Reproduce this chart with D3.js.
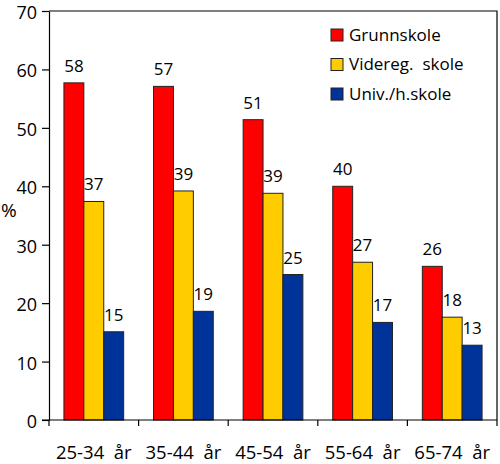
<!DOCTYPE html>
<html>
<head>
<meta charset="utf-8">
<script src="https://cdn.jsdelivr.net/npm/d3@7"></script>
<style>
  body { margin: 0; background: #fff; }
  text { font-family: "Open Sans", sans-serif; fill: #000; white-space: pre; }
</style>
</head>
<body>
<div class="graph"></div>
<script>
// data
var categories = ["25-34  år", "35-44  år", "45-54  år", "55-64  år", "65-74  år"];
var seriesNames = ["Grunnskole", "Videreg.  skole", "Univ./h.skole"];
var seriesColors = ["#ff0000", "#ffcc00", "#003399"];
var grunnskole = [57.7, 57.1, 51.4, 40.0, 26.3];
var videreg = [37.4, 39.2, 38.8, 27.0, 17.6];
var univ = [15.1, 18.6, 24.9, 16.7, 12.8];
var yTicks = [0, 10, 20, 30, 40, 50, 60, 70];

var series = [grunnskole, videreg, univ];

// set the dimensions and margins
var margin = {top: 11, right: 3, bottom: 44, left: 49},
    width = 500 - margin.left - margin.right,
    height = 464 - margin.top - margin.bottom;

var svg = d3.select(".graph").append("svg")
    .attr("width", 500)
    .attr("height", 464)
  .append("g")
    .attr("transform", "translate(" + margin.left + "," + margin.top + ")");

// scales
var x0 = d3.scaleBand().domain(categories).range([0, width]);
var x1 = d3.scaleBand().domain(d3.range(series.length))
    .range([x0.bandwidth() / 6, x0.bandwidth() * 5 / 6]);
var y = d3.scaleLinear().domain([0, 70]).range([height, 0]);

// frame (top and right)
svg.append("path")
    .attr("d", "M0,0H" + width + "V" + height)
    .attr("fill", "none")
    .attr("stroke", "#000")
    .attr("stroke-width", 1.2);

// bars
var groups = svg.selectAll("g.cat")
    .data(categories)
  .enter().append("g")
    .attr("class", "cat")
    .attr("transform", function(d) { return "translate(" + x0(d) + ",0)"; });

groups.selectAll("rect")
    .data(function(d, i) { return series.map(function(s, j) { return {s: j, v: s[i]}; }); })
  .enter().append("rect")
    .attr("x", function(d) { return x1(d.s); })
    .attr("y", function(d) { return y(d.v); })
    .attr("width", x1.bandwidth())
    .attr("height", function(d) { return height - y(d.v); })
    .attr("fill", function(d) { return seriesColors[d.s]; })
    .attr("stroke", "#222")
    .attr("stroke-width", 1);

groups.selectAll("text.val")
    .data(function(d, i) { return series.map(function(s, j) { return {s: j, v: s[i]}; }); })
  .enter().append("text")
    .attr("class", "val")
    .attr("x", function(d) { return x1(d.s) + x1.bandwidth() / 2; })
    .attr("y", function(d) { return y(d.v) - 11; })
    .attr("text-anchor", "middle")
    .style("font-size", "17px")
    .text(function(d) { return Math.round(d.v); });

// y axis
var yAxis = svg.append("g")
    .call(d3.axisLeft(y).tickValues(yTicks).tickSize(7).tickSizeOuter(0).tickPadding(5));
yAxis.selectAll("text").style("font-size", "18px").attr("fill", "#000").attr("dy", "0.42em");
yAxis.selectAll("line, path").attr("stroke", "#000").attr("stroke-width", 1.2);

// x axis
var xAxis = svg.append("g")
    .attr("transform", "translate(0," + height + ")")
    .call(d3.axisBottom(x0).tickSize(0).tickPadding(26));
xAxis.selectAll("text").style("font-size", "18.5px").attr("fill", "#000");
xAxis.select("path").attr("stroke", "#000").attr("stroke-width", 1.2)
    .attr("d", "M-7,0H" + width);

// category boundary ticks
xAxis.selectAll("line.sep")
    .data(categories.concat(["end"]))
  .enter().append("line")
    .attr("class", "sep")
    .attr("x1", function(d) { return d === "end" ? width : x0(d); })
    .attr("x2", function(d) { return d === "end" ? width : x0(d); })
    .attr("y1", 0)
    .attr("y2", 6)
    .attr("stroke", "#000")
    .attr("stroke-width", 1.2);

// y label
svg.append("text")
    .attr("x", -48)
    .attr("y", y(34.7))
    .style("font-size", "19px")
    .text("%");

// legend
var legend = svg.selectAll("g.legend")
    .data(seriesNames)
  .enter().append("g")
    .attr("class", "legend")
    .attr("transform", function(d, i) { return "translate(282," + (24 + i * 29.5) + ")"; });

legend.append("rect")
    .attr("x", 0)
    .attr("y", -6)
    .attr("width", 12)
    .attr("height", 12)
    .attr("fill", function(d, i) { return seriesColors[i]; })
    .attr("stroke", "#222");

legend.append("text")
    .attr("x", 18)
    .attr("y", 0)
    .attr("dy", "0.35em")
    .style("font-size", "17px")
    .text(function(d) { return d; });
</script>
</body>
</html>
